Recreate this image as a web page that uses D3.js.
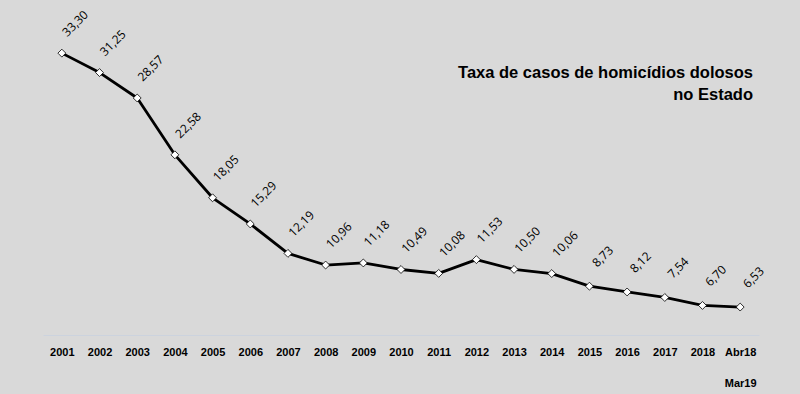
<!DOCTYPE html>
<html>
<head>
<meta charset="utf-8">
<script src="https://cdn.jsdelivr.net/npm/d3@7"></script>
<style>
  body { margin: 0; background: #d9d9d9; }
  svg { display: block; }
</style>
</head>
<body>
<svg id="drawing_region"></svg>
<script>
const categories = ['2001', '2002', '2003', '2004', '2005', '2006', '2007', '2008', '2009', '2010',
    '2011', '2012', '2013', '2014', '2015', '2016', '2017', '2018', 'Abr18 Mar19'];
const values = [33.30, 31.25, 28.57, 22.58, 18.05, 15.29, 12.19, 10.96, 11.18, 10.49,
    10.08, 11.53, 10.50, 10.06, 8.73, 8.12, 7.54, 6.70, 6.53];
const titleLines = ['Taxa de casos de homicídios dolosos', 'no Estado'];

const data = categories.map((c, i) => ({ label: c, value: values[i] }));

const config = { width: 800, height: 394 };

const svg = d3.select('#drawing_region')
    .attr('width', config.width)
    .attr('height', config.height);

svg.append('rect')
    .attr('width', config.width)
    .attr('height', config.height)
    .attr('fill', '#d9d9d9');

// scales
const xscale = d3.scalePoint()
    .domain(categories)
    .range([43, 759])
    .padding(0.5);

const yscale = d3.scaleLinear()
    .domain([0, 35])
    .range([369, 37]);

// x axis
const xaxis = d3.axisBottom(xscale)
    .tickSize(0)
    .tickPadding(0);

const xaxis_group = svg.append('g')
    .attr('transform', 'translate(0, 335)')
    .call(xaxis);

xaxis_group.select('.domain')
    .attr('stroke', '#ccd3de')
    .attr('stroke-width', 1);

xaxis_group.selectAll('text')
    .attr('y', 21)
    .attr('dy', 0)
    .attr('fill', '#000')
    .attr('font-family', '"Liberation Sans", Arial, sans-serif')
    .attr('font-size', '11px')
    .attr('font-weight', 'bold')
    .each(function(d) {
        const parts = d.split(' ');
        if (parts.length > 1) {
            const t = d3.select(this).text(null);
            parts.forEach((p, i) => {
                t.append('tspan')
                    .attr('x', 0)
                    .attr('y', 21 + i * 31)
                    .text(p);
            });
        }
    });

// line
const line = d3.line()
    .x(d => xscale(d.label))
    .y(d => yscale(d.value));

svg.append('path')
    .attr('d', line(data))
    .attr('fill', 'none')
    .attr('stroke', '#000')
    .attr('stroke-width', 2.8)
    .attr('stroke-linejoin', 'round');

// markers
svg.selectAll('.marker')
    .data(data)
    .enter()
    .append('path')
    .attr('class', 'marker')
    .attr('d', d3.symbol().type(d3.symbolDiamond2).size(40))
    .attr('transform', d => `translate(${xscale(d.label)}, ${yscale(d.value)})`)
    .attr('fill', '#fff')
    .attr('stroke', '#000')
    .attr('stroke-width', 0.8);

// data labels
svg.selectAll('.dlabel')
    .data(data)
    .enter()
    .append('text')
    .attr('class', 'dlabel')
    .attr('transform', d => `translate(${xscale(d.label) + 14}, ${yscale(d.value) - 29}) rotate(-45)`)
    .attr('text-anchor', 'middle')
    .attr('dominant-baseline', 'middle')
    .attr('font-family', '"Open Sans", "Liberation Sans", sans-serif')
    .attr('font-size', '12px')
    .attr('fill', '#000')
    .text(d => d.value.toFixed(2).replace('.', ','));

// title
svg.append('g')
    .selectAll('text')
    .data(titleLines)
    .enter()
    .append('text')
    .attr('x', 753)
    .attr('y', (d, i) => 78 + i * 22)
    .attr('text-anchor', 'end')
    .attr('font-family', '"Liberation Sans", Arial, sans-serif')
    .attr('font-size', '16.5px')
    .attr('font-weight', 'bold')
    .attr('fill', '#000')
    .text(d => d);
</script>
</body>
</html>
